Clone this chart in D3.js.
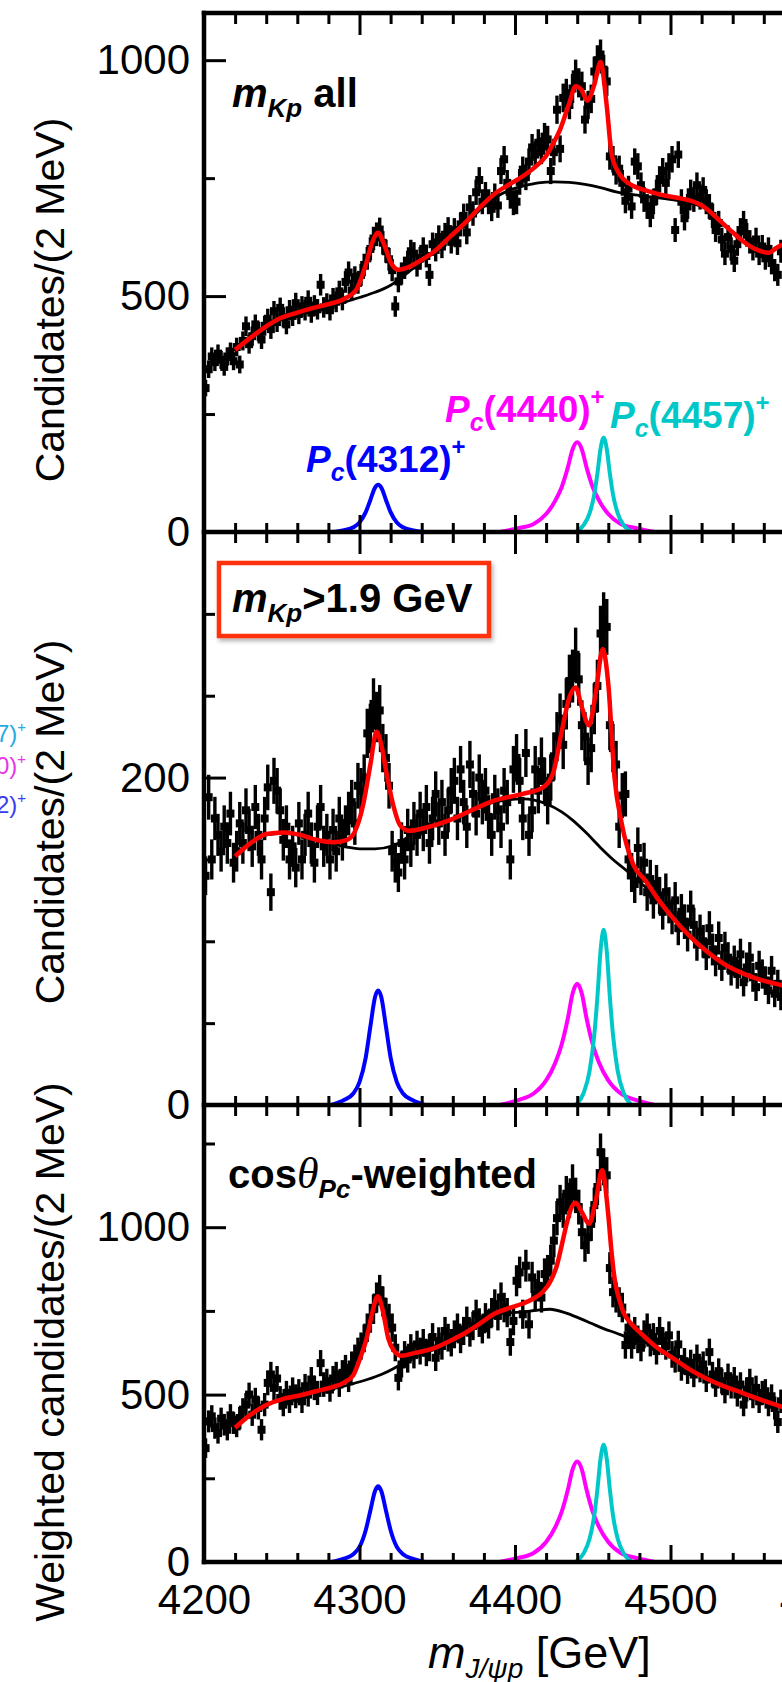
<!DOCTYPE html>
<html><head><meta charset="utf-8">
<script src="https://cdnjs.cloudflare.com/ajax/libs/d3/7.8.5/d3.min.js"></script>
<style>body{margin:0;background:#fff}svg{display:block}text{font-family:"Liberation Sans",Arial,Helvetica,sans-serif}</style>
</head><body><svg id="c" width="782" height="1682"></svg>
<script>
// ---------- data ----------
const binStart = 4201, binStep = 2;   // 2 MeV bins (centres)
const countsAll = [
305,345,372,360,378,365,350,372,382,362,
392,355,405,436,398,415,440,425,408,437,
452,430,468,445,475,455,440,470,458,485,
462,478,470,490,465,480,472,524,476,484,
470,495,488,510,492,530,550,512,540,528,
545,566,580,600,622,631,641,613,595,578,
555,478,531,548,560,572,595,590,565,580,
600,585,545,610,598,625,605,630,642,615,
640,612,652,670,635,688,675,720,746,700,
715,700,685,712,692,765,790,740,712,698,
700,742,768,752,785,815,800,825,808,838,
832,765,805,895,812,920,930,905,940,970,
952,945,874,905,918,976,1000,1012,980,955,
796,790,764,770,740,702,728,690,785,775,
735,705,690,672,700,720,748,765,740,775,
790,640,800,700,665,690,720,705,735,710,
725,700,690,670,640,655,620,590,625,600,
575,610,640,655,630,615,600,620,590,605,
580,600,570,555,545,595];
const countsCut = [
140,188,150,175,165,155,170,160,178,148,
155,172,160,180,168,158,182,165,150,175,
194,130,198,192,180,162,170,150,158,145,
172,150,165,178,160,148,170,182,158,165,
150,168,155,175,162,170,178,185,172,195,
192,200,227,230,245,237,241,218,212,195,
155,148,142,160,150,168,158,172,165,178,
168,182,160,175,190,172,185,165,180,192,
198,175,205,185,170,208,190,178,200,185,
192,176,165,188,180,170,192,185,150,205,
212,198,175,215,165,180,205,192,210,198,
185,200,213,225,236,220,245,259,262,275,
260,232,225,210,218,242,256,288,296,292,
232,218,208,170,189,190,150,142,135,157,
140,148,130,138,125,135,128,118,130,122,
115,125,108,118,112,104,120,110,98,106,
100,92,108,95,88,102,85,96,90,82,
88,80,92,75,84,90,78,72,85,80,
76,70,82,68,74,66];
const countsWeighted = [
340,420,435,400,385,428,410,395,438,415,
405,430,455,470,500,440,485,460,395,470,
535,560,520,548,490,470,505,480,515,495,
510,480,525,500,545,520,505,594,530,540,
515,548,560,530,565,580,545,590,610,630,
645,668,700,728,755,790,812,778,745,728,
700,640,550,590,620,605,640,618,650,630,
655,625,640,672,610,660,645,690,670,655,
680,700,665,690,720,685,705,740,715,695,
730,710,745,770,735,790,760,745,657,720,
840,865,740,885,710,850,800,825,790,860,
870,900,960,1027,1074,1050,1100,1080,1134,1095,
1060,985,946,970,1010,1066,1120,1224,1180,1155,
878,806,790,776,760,648,700,648,690,665,
640,680,700,655,672,630,690,660,645,677,
620,605,650,580,600,570,595,560,610,575,
590,545,627,560,530,570,540,510,555,525,
545,500,530,470,515,540,495,520,480,505,
510,470,495,460,418,480];

// fit curves [mass, value]
const fitAll = [[4220,386],[4230,412],[4240,436],[4247,450],[4258,463],[4268,473],[4280,483],[4290,494],[4298,514],[4304,566],[4308,612],[4312,634],[4316,608],[4320,572],[4325,556],[4332,562],[4340,577],[4347,592],[4358,625],[4369,659],[4378,690],[4387,717],[4396,736],[4405,754],[4413,774],[4420,797],[4425,826],[4429,853],[4435,910],[4439,945],[4443,936],[4446.5,914],[4451,948],[4455,996],[4459,903],[4462,804],[4466,765],[4470,747],[4477,732],[4485,723],[4495,714],[4508,706],[4515,700],[4521,690],[4530,665],[4538,641],[4546,618],[4555,599],[4563,592],[4568,602],[4572,610]];
const bkgAll = [[4220,384],[4230,410],[4240,434],[4247,448],[4258,461],[4268,470],[4280,479],[4290,487],[4300,497],[4310,508],[4320,523],[4330,547],[4340,573],[4347,590],[4358,623],[4369,656],[4378,684],[4387,708],[4396,724],[4405,733],[4415,740],[4425,742],[4435,741],[4445,737],[4455,730],[4465,721],[4480,713],[4495,707],[4510,699],[4521,688],[4530,664],[4538,640],[4546,617],[4555,598],[4563,591],[4568,601],[4572,609]];
const fitCut = [[4220,152],[4230,160],[4240,165.5],[4251,166.5],[4262,165],[4272,162],[4283,160.5],[4292,162],[4297,167],[4302.5,184],[4307,208],[4311,228],[4314,220],[4317.5,202],[4322,182],[4326,171],[4332,167.5],[4345,170],[4358,174],[4372,180],[4387,186],[4405,190],[4418,194],[4424.6,203],[4430,228],[4435,249],[4439,255],[4443,243],[4447.6,232],[4452,252],[4456.4,278.5],[4460,257],[4464,200],[4468.6,172],[4476,147],[4484,137],[4491,127],[4500,116],[4512.5,103],[4523,94],[4534,86.4],[4545,81],[4555,77.3],[4568,74],[4572,73]];
const bkgCut = [[4220,152],[4230,160],[4240,165],[4251,166],[4262,164.5],[4272,161.5],[4283,159.5],[4292,157.5],[4300,156.5],[4310,156.5],[4322,158.5],[4330,163],[4335,167],[4345,170],[4358,174],[4372,180],[4387,185],[4405,187],[4420,184],[4430,179],[4437,174],[4445,167],[4454.7,157.5],[4463,150],[4472,143],[4478,138],[4484,133],[4491,127],[4500,116],[4512.5,103],[4523,94],[4534,86.4],[4545,81],[4555,77.3],[4568,74],[4572,73]];
const fitWeighted = [[4220,401],[4230,440],[4240,469],[4250,486],[4262,498],[4272,510],[4283,523],[4290,536],[4296,558],[4300.5,610],[4304.6,668],[4308,740],[4311.7,794],[4315,750],[4318.5,668],[4322,632],[4327,616],[4335,624],[4347.5,638],[4358,660],[4369,687],[4378,714],[4387,742],[4396,758],[4405,772],[4412,787],[4418,807],[4423,840],[4427,887],[4430,945],[4433,1006],[4436,1055],[4439,1073],[4443,1045],[4447.6,1010],[4452,1080],[4456,1170],[4460,1036],[4462,930],[4464,847],[4467,785],[4469.6,747],[4475,710],[4480,687],[4490,645],[4501.7,608],[4512,576],[4523,548],[4535,524],[4547,504],[4558,485],[4568,469],[4572,463]];
const bkgWeighted = [[4220,401],[4230,440],[4240,469],[4250,486],[4262,498],[4272,508],[4283,518],[4290,525],[4296,533],[4305,545],[4314,560],[4322,578],[4329,598],[4335,618],[4347.5,636],[4358,658],[4369,685],[4378,712],[4387,738],[4396,744],[4405,747],[4414,752],[4422.5,755],[4432,745],[4442,727],[4449,713],[4457,697],[4465,684],[4472,672],[4480,662],[4490,643],[4501.7,608],[4512,576],[4523,548],[4535,524],[4547,504],[4558,485],[4568,469],[4572,463]];

// Pc components
const pc4312Mass = [4282,4290,4296,4300,4304,4307,4310,4312,4314,4317,4320,4324,4328,4334,4342];
const pc4312All = [0,4,10,20,42,68,94,100,94,68,42,20,10,4,0];
const pc4312Cut = [0,3,7,14,29,48,66,70,66,48,29,14,7,3,0];
const pc4312Weighted = [0,10,23,45,95,154,212,226,212,154,95,45,23,10,0];
const pc4440Mass = [4390,4402,4412,4420,4426,4430,4434,4437,4440,4443,4446,4450,4454,4460,4468,4478,4490];
const pc4440All = [0,8,17,38,67,95,137,175,190,175,137,95,67,38,17,8,0];
const pc4440Cut = [0,3,7,15,26,37,53,68,74,68,53,37,26,15,7,3,0];
const pc4440Weighted = [0,12,27,60,105,150,216,276,300,276,216,150,105,60,27,12,0];
const pc4457Mass = [4439,4444,4448,4451,4453,4455,4457,4459,4461,4463,4466,4470,4475];
const pc4457All = [0,14,40,80,124,176,200,176,124,80,40,14,0];
const pc4457Cut = [0,7,21,43,66,94,107,94,66,43,21,7,0];
const pc4457Weighted = [0,25,70,140,217,308,350,308,217,140,70,25,0];

// ticks
const xMajorTicks = [4200,4300,4400,4500,4600];
const xMinorTicks = [4220,4240,4260,4280,4320,4340,4360,4380,4420,4440,4460,4480,4520,4540,4560,4580];
const yTicksAll = [0,500,1000], yMinorAll = [250,750];
const yTicksCut = [0,200], yMinorCut = [50,100,150,250,300];
const yTicksWeighted = [0,500,1000], yMinorWeighted = [250,750,1250];
const errScale = [1.0, 1.0, 1.6];

// ---------- drawing ----------
const svg = d3.select("#c");
const x = d3.scaleLinear().domain([4200,4600]).range([204,826]);
const X0 = 204, XR = 826;

const panels = [
  {top:13, bottom:532, ymax:1100, data:countsAll, fit:fitAll, bkg:bkgAll,
   pcs:[[pc4312All,pc4312Mass,"#0000ff"],[pc4440All,pc4440Mass,"#ff00ff"],[pc4457All,pc4457Mass,"#00c8c8"]],
   yt:yTicksAll, ym:yMinorAll, title:"Candidates/(2 MeV)", tcy:300},
  {top:532, bottom:1105, ymax:350, data:countsCut, fit:fitCut, bkg:bkgCut,
   pcs:[[pc4312Cut,pc4312Mass,"#0000ff"],[pc4440Cut,pc4440Mass,"#ff00ff"],[pc4457Cut,pc4457Mass,"#00c8c8"]],
   yt:yTicksCut, ym:yMinorCut, title:"Candidates/(2 MeV)", tcy:822},
  {top:1105, bottom:1562, ymax:1365, data:countsWeighted, fit:fitWeighted, bkg:bkgWeighted,
   pcs:[[pc4312Weighted,pc4312Mass,"#0000ff"],[pc4440Weighted,pc4440Mass,"#ff00ff"],[pc4457Weighted,pc4457Mass,"#00c8c8"]],
   yt:yTicksWeighted, ym:yMinorWeighted, title:"Weighted candidates/(2 MeV)", tcy:1352}
];

const defs = svg.append("defs");
const shadow = defs.append("filter").attr("id","sh").attr("x","-10%").attr("y","-10%").attr("width","130%").attr("height","140%");
shadow.append("feDropShadow").attr("dx",2).attr("dy",3).attr("stdDeviation",2).attr("flood-color","#000").attr("flood-opacity",0.3);

panels.forEach((p,i)=>{
  const y = d3.scaleLinear().domain([0,p.ymax]).range([p.bottom,p.top]);
  defs.append("clipPath").attr("id","cp"+i).append("rect")
    .attr("x",X0).attr("y",p.top).attr("width",XR-X0).attr("height",p.bottom-p.top);
  const g = svg.append("g").attr("clip-path",`url(#cp${i})`);
  const lineP = d3.line().x(d=>x(d[0])).y(d=>y(d[1])).curve(d3.curveMonotoneX);
  // Pc components
  p.pcs.forEach(([vals,mass,col])=>{
    g.append("path").attr("d",lineP(d3.zip(mass,vals))).attr("fill","none").attr("stroke",col).attr("stroke-width",4);
  });
  // data points with error bars
  const pts = g.append("g");
  p.data.forEach((v,k)=>{
    const m = binStart + k*binStep;
    const e = errScale[i]*Math.sqrt(v);
    pts.append("line").attr("x1",x(m)).attr("x2",x(m)).attr("y1",y(v-e)).attr("y2",y(v+e))
      .attr("stroke","#000").attr("stroke-width",3.4);
    pts.append("rect").attr("x",x(m)-4).attr("y",y(v)-4).attr("width",8).attr("height",8).attr("fill","#000");
  });
  g.append("path").attr("d",lineP(p.bkg)).attr("fill","none").attr("stroke","#000").attr("stroke-width",2.8);
  g.append("path").attr("d",lineP(p.fit)).attr("fill","none").attr("stroke","#ff0000").attr("stroke-width",4.5);

  // y axis ticks (inward)
  svg.append("g").attr("transform",`translate(${X0},0)`)
    .call(d3.axisLeft(y).tickValues(p.yt).tickSize(-22).tickPadding(14).tickFormat(d3.format("d")));
  svg.append("g").attr("transform",`translate(${X0},0)`)
    .call(d3.axisLeft(y).tickValues(p.ym).tickSize(-11).tickFormat(""));
  // x axis ticks top and bottom (inward)
  svg.append("g").attr("transform",`translate(0,${p.top})`).call(d3.axisTop(x).tickValues(xMajorTicks).tickSize(-22).tickFormat(""));
  svg.append("g").attr("transform",`translate(0,${p.top})`).call(d3.axisTop(x).tickValues(xMinorTicks).tickSize(-11).tickFormat(""));
  svg.append("g").attr("transform",`translate(0,${p.bottom})`)
    .call(d3.axisBottom(x).tickValues(xMajorTicks).tickSize(-17).tickPadding(22).tickFormat(i===2?d3.format("d"):""));
  svg.append("g").attr("transform",`translate(0,${p.bottom})`).call(d3.axisBottom(x).tickValues(xMinorTicks).tickSize(-9).tickFormat(""));

  // y title
  svg.append("text").attr("transform",`translate(64,${p.tcy}) rotate(-90)`).attr("text-anchor","middle")
    .attr("font-size",41).attr("fill","#000").text(p.title);
});

svg.selectAll(".domain").remove();
svg.selectAll(".tick line").attr("stroke","#000").attr("stroke-width",3);
svg.selectAll(".tick text").attr("font-size",42).attr("fill","#000").attr("font-family","'Liberation Sans',Arial,sans-serif");

// frame
const fr = svg.append("g").attr("stroke","#000").attr("stroke-width",4.5).attr("stroke-linecap","square");
fr.append("line").attr("x1",X0).attr("x2",X0).attr("y1",13).attr("y2",1562);
[13,532,1105,1562].forEach(yy=>fr.append("line").attr("x1",X0).attr("x2",XR).attr("y1",yy).attr("y2",yy));

// rich text helper
function rich(xp, yp, parts, o){
  const t = svg.append("text").attr("x",xp).attr("y",yp).attr("fill",o.fill||"#000")
    .attr("font-size",o.size).attr("font-weight",o.weight||"bold");
  if(o.anchor) t.attr("text-anchor",o.anchor);
  parts.forEach(q=>{
    const s = t.append("tspan").text(q.t);
    if(q.size) s.attr("font-size",q.size);
    if(q.it) s.attr("font-style","italic");
    if(q.dy) s.attr("dy",q.dy);
    if(q.w) s.attr("font-weight",q.w);
    if(q.ff) s.attr("font-family",q.ff);
  });
  return t;
}
// panel labels
rich(232,107,[{t:"m",it:1},{t:"Kp",it:1,size:26,dy:10},{t:" all",dy:-10}],{size:40});
svg.append("rect").attr("x",219).attr("y",563).attr("width",270).attr("height",73)
  .attr("fill","#fff").attr("stroke","#ff3311").attr("stroke-width",4.5).attr("filter","url(#sh)");
rich(232,612,[{t:"m",it:1},{t:"Kp",it:1,size:26,dy:10},{t:">1.9 GeV",dy:-10}],{size:40});
rich(228,1188,[{t:"cos"},{t:"θ",it:1,w:"normal",ff:"'Liberation Serif',serif",size:44},{t:"Pc",it:1,size:26,dy:10},{t:"-weighted",dy:-10}],{size:40});

// Pc labels
rich(306,472,[{t:"P",it:1},{t:"c",it:1,size:25,dy:9},{t:"(4312)",dy:-9},{t:"+",size:24,dy:-17}],{size:37,fill:"#0000ff"});
rich(445,422,[{t:"P",it:1},{t:"c",it:1,size:25,dy:9},{t:"(4440)",dy:-9},{t:"+",size:24,dy:-17}],{size:37,fill:"#ff00ff"});
rich(610,428,[{t:"P",it:1},{t:"c",it:1,size:25,dy:9},{t:"(4457)",dy:-9},{t:"+",size:24,dy:-17}],{size:37,fill:"#00c8c8"});

// partial legend remnants at far left (cut by the image edge)
rich(26,742,[{t:"P",it:1},{t:"c",size:15,dy:5},{t:"(4457)",dy:-5},{t:"+",size:15,dy:-10}],{size:24,weight:"normal",fill:"#27aae1",anchor:"end"});
rich(26,774,[{t:"P",it:1},{t:"c",size:15,dy:5},{t:"(4440)",dy:-5},{t:"+",size:15,dy:-10}],{size:24,weight:"normal",fill:"#e535e5",anchor:"end"});
rich(26,813,[{t:"P",it:1},{t:"c",size:15,dy:5},{t:"(4312)",dy:-5},{t:"+",size:15,dy:-10}],{size:24,weight:"normal",fill:"#3b3bf0",anchor:"end"});

// x title
rich(428,1668,[{t:"m",it:1},{t:"J/ψp",it:1,size:28,dy:10},{t:" [GeV]",dy:-10}],{size:45,weight:"normal"});
</script></body></html>
